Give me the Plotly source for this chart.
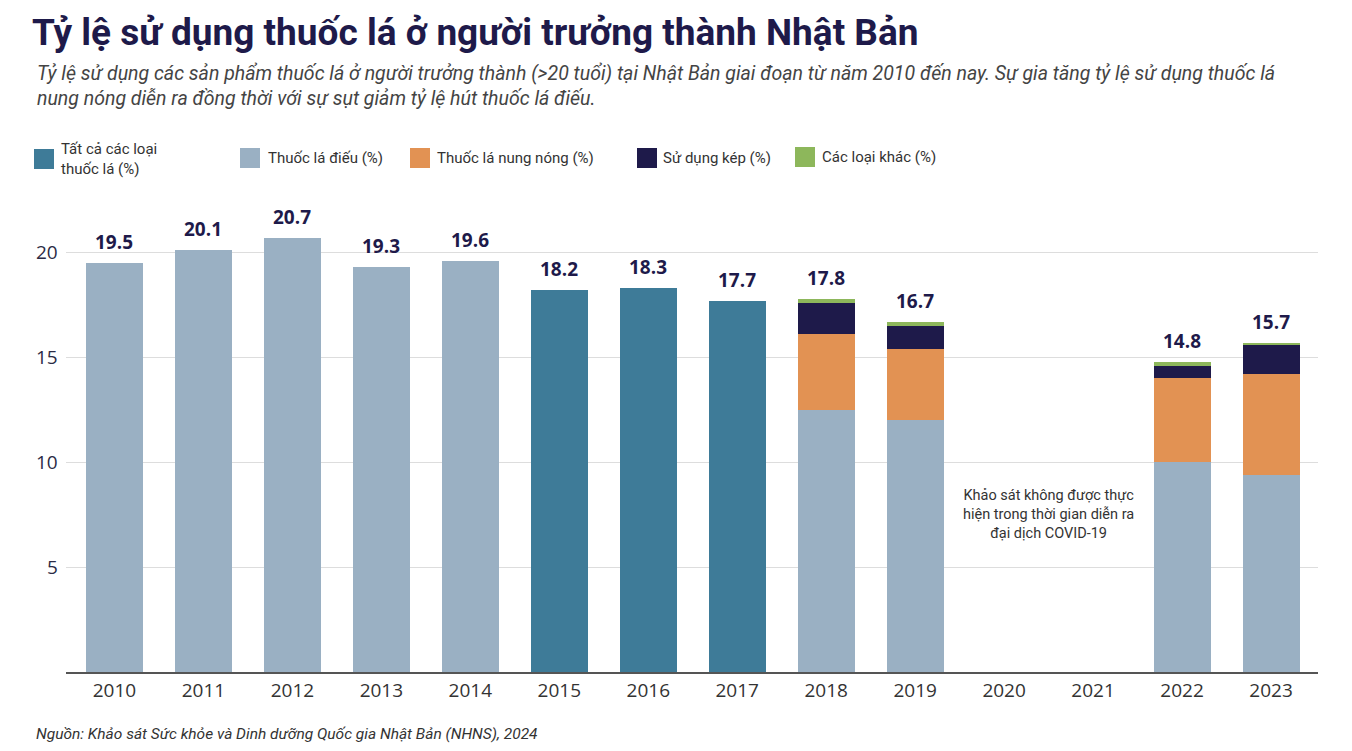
import plotly.graph_objects as go

# --- Data ---
YEARS = ['2010', '2011', '2012', '2013', '2014', '2015', '2016',
         '2017', '2018', '2019', '2020', '2021', '2022', '2023']
ALL_TOBACCO = [None, None, None, None, None, 18.2, 18.3, 17.7,
               None, None, None, None, None, None]
CIGARETTES = [19.5, 20.1, 20.7, 19.3, 19.6, None, None, None,
              12.5, 12.0, None, None, 10.0, 9.4]
HEATED = [None] * 8 + [3.6, 3.4, None, None, 4.0, 4.8]
DUAL = [None] * 8 + [1.5, 1.1, None, None, 0.6, 1.4]
OTHER = [None] * 8 + [0.2, 0.2, None, None, 0.2, 0.1]
TOTALS = [19.5, 20.1, 20.7, 19.3, 19.6, 18.2, 18.3, 17.7,
          17.8, 16.7, None, None, 14.8, 15.7]
Y_TICKS = [5, 10, 15, 20]

NAMES = ['Tất cả các loại<br>thuốc lá (%)', 'Thuốc lá điếu (%)',
         'Thuốc lá nung nóng (%)', 'Sử dụng kép (%)', 'Các loại khác (%)']

# --- Style ---
C_ALL = '#3E7B98'
C_CIG = '#9AB0C3'
C_HEAT = '#E29253'
C_DUAL = '#1E1A4A'
C_OTHER = '#8DB75B'
NAVY = '#1E1A4A'
TEXT = '#333333'

# page body has an 8px margin, so the figure sits 8px in from the corner
OFF = 8
W, H = 1352 - 2 * OFF, 751 - 2 * OFF
L, R, T, B = 58, 26, 192, 71


def px_x(px):
    # screen pixel -> paper x
    return (px - OFF - L) / (W - L - R)


def px_y(py):
    # screen pixel -> paper y
    return (H - B - (py - OFF)) / (H - T - B)


fig = go.Figure()
series = [ALL_TOBACCO, CIGARETTES, HEATED, DUAL, OTHER]
colors = [C_ALL, C_CIG, C_HEAT, C_DUAL, C_OTHER]
for vals, col, name in zip(series, colors, NAMES):
    fig.add_trace(go.Bar(x=YEARS, y=vals, name=name, marker_color=col,
                         marker_line_width=0, showlegend=False,
                         hoverinfo='skip'))

annotations = []
shapes = []

# total labels above bars (category index, since '2010' would be read as a number)
for i, tot in enumerate(TOTALS):
    if tot is None:
        continue
    annotations.append(dict(x=i, y=tot, xref='x', yref='y', text=f'{tot:.1f}',
                            showarrow=False, yanchor='bottom', yshift=6,
                            font=dict(family='Open Sans', size=19, color=NAVY,
                                      weight='bold')))

# y tick labels sit closer to the plot than plotly's own, so place them by hand
for v in Y_TICKS:
    annotations.append(dict(x=0, y=v, xref='paper', yref='y', text=str(v),
                            showarrow=False, xanchor='right', yanchor='middle',
                            xshift=-6,
                            font=dict(family='Open Sans', size=19,
                                      color='#2B2B45')))

# legend drawn by hand (squares + labels)
legend_items = [(34, 59, 159, C_ALL), (240, 266, 158, C_CIG),
                (410, 435, 158, C_HEAT), (637, 661, 158, C_DUAL),
                (795, 820, 157, C_OTHER)]
for (sx, tx, cy, col), name in zip(legend_items, NAMES):
    shapes.append(dict(type='rect', xref='paper', yref='paper',
                       x0=px_x(sx), x1=px_x(sx + 20),
                       y0=px_y(cy + 10), y1=px_y(cy - 10),
                       fillcolor=col, line_width=0))
    annotations.append(dict(text=name, xref='paper', yref='paper',
                            x=px_x(tx), y=px_y(cy), xanchor='left',
                            yanchor='middle', showarrow=False, align='left',
                            font=dict(family='Roboto', size=15, color=TEXT)))

# covid note
annotations.append(dict(
    text='Khảo sát không được thực<br>hiện trong thời gian diễn ra<br>đại dịch COVID-19',
    x=10.5, y=7.5, xref='x', yref='y', showarrow=False,
    font=dict(family='Roboto', size=14.5, color=TEXT), align='center'))

# subtitle
annotations.append(dict(
    text='Tỷ lệ sử dụng các sản phẩm thuốc lá ở người trưởng thành (>20 tuổi) tại Nhật Bản '
         'giai đoạn từ năm 2010 đến nay. Sự gia tăng tỷ lệ sử dụng thuốc lá<br>'
         'nung nóng diễn ra đồng thời với sự sụt giảm tỷ lệ hút thuốc lá điếu.',
    xref='paper', yref='paper', x=px_x(35), y=px_y(60),
    xanchor='left', yanchor='top', showarrow=False, align='left',
    font=dict(family='Roboto', size=19.5, color='#444444', style='italic')))

# source
annotations.append(dict(
    text='Nguồn: Khảo sát Sức khỏe và Dinh dưỡng Quốc gia Nhật Bản (NHNS), 2024',
    xref='paper', yref='paper', x=px_x(34), y=px_y(734),
    xanchor='left', yanchor='middle', showarrow=False,
    font=dict(family='Roboto', size=15.5, color=TEXT, style='italic')))

fig.update_layout(
    width=W, height=H,
    margin=dict(l=L, r=R, t=T, b=B),
    paper_bgcolor='white', plot_bgcolor='white',
    barmode='stack', bargap=0.36,
    title=dict(text='<b>Tỷ lệ sử dụng thuốc lá ở người trưởng thành Nhật Bản</b>',
               x=(32 - OFF) / W, xanchor='left',
               y=1 - (32 - OFF) / H, yanchor='middle',
               font=dict(family='Roboto', size=37, color=NAVY)),
    xaxis=dict(type='category', showgrid=False, showline=True,
               linecolor='#555555', linewidth=1.5, ticks='',
               tickfont=dict(family='Open Sans', size=19, color=TEXT),
               range=[-0.545, 13.528]),
    yaxis=dict(range=[0, 22.5], tickvals=Y_TICKS, showgrid=True,
               gridcolor='#DDDDDD', gridwidth=1, zeroline=False,
               showline=False, ticks='', showticklabels=False),
    shapes=shapes, annotations=annotations,
)

fig.write_html('out.html')
